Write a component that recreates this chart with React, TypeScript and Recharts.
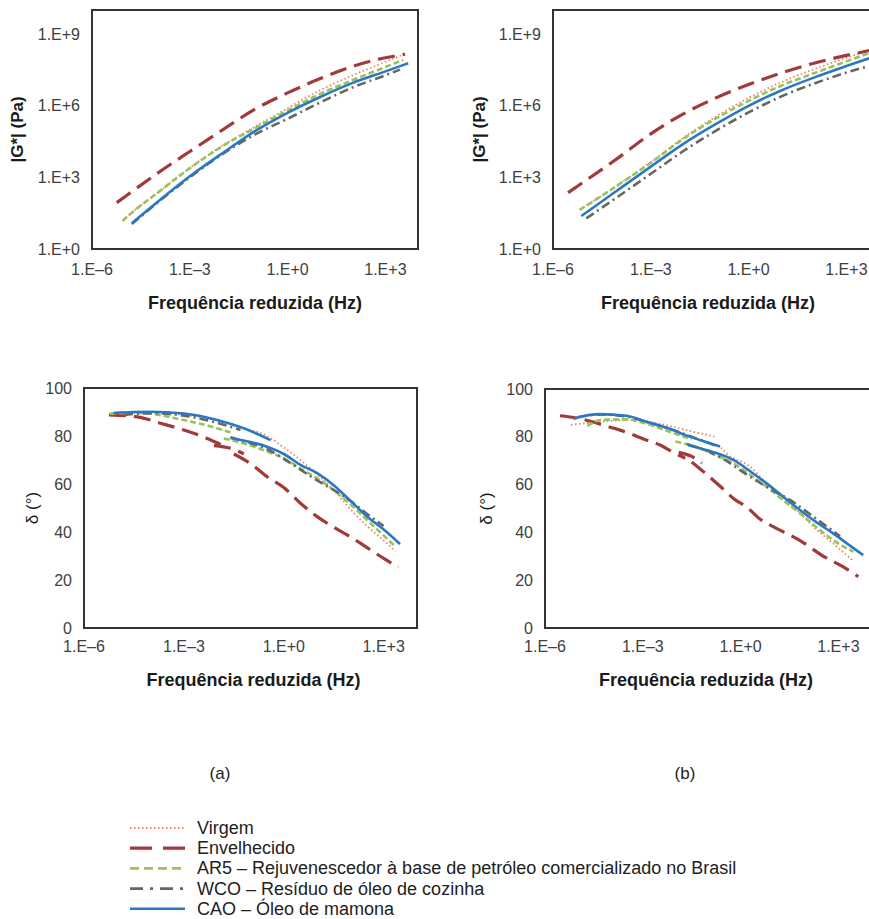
import React from 'react';
import { LineChart, Line, XAxis, YAxis, ReferenceArea } from 'recharts';

type Pt = [number, number | null];

// |G*| (Pa) against reduced frequency (Hz) — panel (a)
const virgemGa: Pt[] = [[8.7e-6, 15], [1e-5, 18], [1e-4, 219], [1e-3, 2500], [1e-2, 2.1e4], [0.1, 1.3e5], [1, 7.8e5], [10, 4.4e6], [100, 1.86e7], [1000, 6.8e7], [4500, 1.55e8]];
const envelhecidoGa: Pt[] = [[5.75e-6, 87], [1e-5, 151], [1e-4, 1450], [1e-3, 1.2e4], [1e-2, 9.5e4], [0.1, 7.1e5], [1, 3.4e6], [10, 1.35e7], [100, 4.4e7], [1000, 1.0e8], [4000, 1.41e8]];
const ar5Ga: Pt[] = [[8.7e-6, 15], [1e-5, 18], [1e-4, 219], [1e-3, 2400], [1e-2, 2.0e4], [0.1, 1.15e5], [1, 6.2e5], [10, 3.1e6], [100, 1.17e7], [1000, 4.1e7], [3500, 8.1e7]];
const wcoGa: Pt[] = [[1.66e-5, 11], [1e-4, 85], [1e-3, 1000], [1e-2, 9300], [0.1, 6.2e4], [1, 2.8e5], [10, 1.35e6], [100, 5.8e6], [1000, 1.86e7], [2800, 3.2e7]];
const caoGa: Pt[] = [[1.66e-5, 12], [1e-4, 91], [1e-3, 1100], [1e-2, 1.02e4], [0.1, 8.5e4], [1, 5.0e5], [10, 2.3e6], [100, 8.9e6], [1000, 2.7e7], [5000, 5.9e7]];

// |G*| (Pa) — panel (b)
const virgemGb: Pt[] = [[6.6e-6, 43], [1e-5, 62], [1e-4, 479], [1e-3, 4300], [1e-2, 4.5e4], [0.1, 3.5e5], [1, 2.1e6], [10, 9.5e6], [100, 3.3e7], [1000, 1.0e8], [5000, 2.1e8]];
const envelhecidoGb: Pt[] = [[2.9e-6, 229], [1e-5, 724], [1e-4, 6500], [1e-3, 6.6e4], [1e-2, 4.5e5], [0.1, 2.1e6], [1, 7.6e6], [10, 2.3e7], [100, 5.9e7], [1000, 1.26e8], [5000, 2.0e8]];
const ar5Gb: Pt[] = [[6.6e-6, 43], [1e-5, 62], [1e-4, 479], [1e-3, 4100], [1e-2, 4.1e4], [0.1, 2.9e5], [1, 1.58e6], [10, 6.8e6], [100, 2.24e7], [1000, 7.1e7], [5000, 1.58e8]];
const wcoGb: Pt[] = [[1.05e-5, 19], [1e-4, 158], [1e-3, 1400], [1e-2, 1.26e4], [0.1, 8.9e4], [1, 5.2e5], [10, 2.4e6], [100, 8.3e6], [1000, 2.4e7], [4000, 4.2e7]];
const caoGb: Pt[] = [[7.4e-6, 24], [1e-5, 32], [1e-4, 302], [1e-3, 2800], [1e-2, 2.5e4], [0.1, 1.7e5], [1, 9.8e5], [10, 4.3e6], [100, 1.48e7], [1000, 4.5e7], [5000, 9.5e7]];

// δ (°) — panel (a); null splits the overlapping master-curve pieces
const virgemDa: Pt[] = [[6.3e-6, 89.2], [3.16e-5, 89.7], [1e-4, 89.7], [1e-3, 88.8], [1e-2, 86.5], [4e-2, 83.9], [0.1, 82.5], [0.25, 80.7], [1, 75.2], [3.16, 70], [10, 64], [31.6, 57.5], [100, 49.5], [316, 42.5], [1000, 36.5], [2240, 32]];
const envelhecidoDa: Pt[] = [[5.6e-6, 88.8], [4e-5, 88.0], [2e-4, 85.3], [1e-3, 82.5], [5e-3, 79.0], [1.26e-2, 76.5], [1.26e-2, null], [8e-3, 76.0], [2.5e-2, 74.9], [6.3e-2, 72.6], [6.3e-2, null], [3.16e-2, 72.5], [0.1, 68.5], [0.316, 63.0], [1, 58.5], [3.16, 52], [10, 46.4], [31.6, 42], [100, 38], [316, 33.5], [1000, 29], [2750, 25.3]];
const ar5Da: Pt[] = [[6e-6, 89.3], [3.16e-5, 89.6], [1e-4, 89.3], [5e-4, 87.5], [6.3e-3, 84.0], [2.5e-2, 81.5], [2.5e-2, null], [1.58e-2, 79.0], [4e-2, 77.6], [0.1, 76.0], [0.316, 73.5], [1, 70.7], [3.16, 66.5], [10, 62.4], [31.6, 57.5], [100, 51.5], [316, 45], [1000, 38.5], [2000, 34.6]];
const wcoDa: Pt[] = [[1.58e-5, 88.8], [1e-4, 89.5], [1e-3, 88.5], [1e-2, 85.5], [5e-2, 82.5], [5e-2, null], [2.5e-2, 79.5], [0.1, 77.0], [0.316, 74.5], [1, 70.5], [3.16, 66], [10, 61.5], [31.6, 57.5], [100, 53], [316, 47.5], [1000, 42.5]];
const caoDa: Pt[] = [[7.6e-6, 89.6], [3.16e-5, 90.0], [1e-4, 90.1], [1e-3, 89.4], [1e-2, 86.7], [6.3e-2, 83.2], [0.4, 78.3], [0.4, null], [2.5e-2, 79.2], [0.1, 77.5], [0.316, 75.5], [1, 72.5], [3.16, 68.0], [10, 64.5], [31.6, 59.5], [100, 53], [316, 46.5], [1000, 41], [3090, 35]];

// δ (°) — panel (b)
const virgemDb: Pt[] = [[6.3e-6, 85], [3.16e-5, 86], [3.16e-4, 87], [3.16e-3, 85.5], [1.26e-2, 83.6], [5.6e-2, 81.5], [0.158, 80.1], [0.158, null], [0.25, 75.5], [0.37, 73.1], [1.95, 67.5], [6.3, 60.5], [20, 54], [66, 48], [200, 41.5], [690, 35.4], [2880, 28]];
const envelhecidoDb: Pt[] = [[2.88e-6, 88.8], [1e-5, 87.8], [2.5e-5, 86.5], [1e-4, 84.0], [2e-4, 82.8], [1.26e-3, 78.7], [3.4e-3, 76.6], [8.7e-3, 73.5], [2e-2, 71.0], [2e-2, null], [1.26e-2, 73.5], [3.16e-2, 71.8], [6.5e-2, 69.0], [6.5e-2, null], [3.16e-2, 69.5], [7.9e-2, 65.0], [0.25, 59], [0.63, 54], [1.58, 50.5], [4.0, 45.5], [10, 42.4], [63, 36.8], [400, 29.5], [1580, 25.2], [4070, 21.5]];
const ar5Db: Pt[] = [[2e-5, 84.5], [5e-5, 87.0], [3.16e-4, 87.3], [1.17e-3, 85.6], [1.23e-2, 80.8], [3.16e-2, 79], [3.16e-2, null], [1e-2, 78], [5e-2, 75.5], [0.129, 73], [0.6, 68.9], [2.0, 64], [6.3, 59.1], [20, 53.5], [66, 48], [200, 42.5], [690, 36.8], [2880, 31.9]];
const wcoDb: Pt[] = [[1e-5, 88.2], [5e-5, 89.3], [3.16e-4, 88.5], [1.26e-3, 86.3], [1e-2, 82.5], [5e-2, 79], [0.2, 76], [0.2, null], [2.5e-2, 76.5], [0.1, 74], [0.316, 70.5], [0.95, 66.1], [3.16, 61.5], [10, 57.5], [32.4, 53.6], [170, 46.6], [1120, 38.4]];
const caoDb: Pt[] = [[7.4e-6, 87.5], [1.58e-5, 88.7], [4.4e-5, 89.5], [3.16e-4, 88.8], [1.17e-3, 86.5], [8.7e-3, 82.8], [1.95e-2, 80.8], [5.6e-2, 78.7], [0.234, 75.9], [0.234, null], [2.24e-2, 77.0], [5.6e-2, 75.2], [0.129, 73.8], [0.6, 70.3], [2.0, 65.5], [6.3, 60.5], [20, 55], [66, 49.4], [200, 44.5], [690, 39.6], [2000, 35], [5750, 30.5]];

const FREQ_TICKS = [1e-6, 1e-3, 1, 1e3];
const G_TICKS = [1, 1e3, 1e6, 1e9];
const DELTA_TICKS = [0, 20, 40, 60, 80, 100];

const SERIES = [
  { key: 'virgem', name: 'Virgem', color: '#ec8262', width: 1.8, dash: '1.5 2.5', legendDash: '1.5 2.5' },
  { key: 'envelhecido', name: 'Envelhecido', color: '#a2393a', width: 3.2, dash: '17 8', legendDash: '22 11' },
  { key: 'ar5', name: 'AR5 – Rejuvenescedor à base de petróleo comercializado no Brasil', color: '#9bc25a', width: 2.6, dash: '6 3', legendDash: '9 5' },
  { key: 'wco', name: 'WCO – Resíduo de óleo de cozinha', color: '#666666', width: 2.6, dash: '9 4 2 4', legendDash: '13 7 3 7' },
  { key: 'cao', name: 'CAO – Óleo de mamona', color: '#2b78c2', width: 2.6, dash: undefined, legendDash: undefined },
];

const FONT = "'Liberation Sans', Arial, sans-serif";

const fmtExp = (v: number) => {
  const e = Math.round(Math.log10(v));
  return `1.E${e < 0 ? '\u2013' : '+'}${Math.abs(e)}`;
};

const toRows = (pts: Pt[]) => pts.map(([f, v]) => ({ f, v }));

type Sets = Record<string, Pt[]>;

interface PanelProps {
  left: number;
  top: number;
  marginTop: number;
  marginRight: number;
  yAxisWidth: number;
  xAxisHeight: number;
  height: number;
  log: boolean;
  sets: Sets;
  yTitle: string;
  yTitleOffset: number;
  xTickMargin: number;
  xTitleOffset: number;
  xTitleDx: number;
}

function Panel(p: PanelProps) {
  const yDomain: [number, number] = p.log ? [1, 1e10] : [0, 100];
  const tick = { fill: '#404040', fontSize: 16, fontFamily: FONT };
  return (
    <div style={{ position: 'absolute', left: p.left, top: p.top }}>
      <LineChart width={440} height={p.height} margin={{ top: p.marginTop, right: p.marginRight, bottom: 0, left: 0 }}>
        <XAxis
          dataKey="f"
          type="number"
          scale="log"
          domain={[1e-6, 1e4]}
          allowDataOverflow
          ticks={FREQ_TICKS}
          interval={0}
          tickFormatter={fmtExp}
          tickLine={false}
          tickSize={0}
          tickMargin={p.xTickMargin}
          axisLine={false}
          height={p.xAxisHeight}
          tick={tick}
          label={{
            value: 'Frequência reduzida (Hz)',
            position: 'insideBottom',
            offset: p.xTitleOffset,
            dx: p.xTitleDx,
            fill: '#1a1a1a',
            fontSize: 18,
            fontWeight: 700,
            fontFamily: FONT,
          }}
        />
        <YAxis
          type="number"
          scale={p.log ? 'log' : 'linear'}
          domain={yDomain}
          allowDataOverflow
          ticks={p.log ? G_TICKS : DELTA_TICKS}
          interval={0}
          tickFormatter={p.log ? fmtExp : (v: number) => String(v)}
          tickLine={false}
          tickSize={0}
          tickMargin={12}
          axisLine={false}
          width={p.yAxisWidth}
          tick={tick}
          label={{
            value: p.yTitle,
            angle: -90,
            position: 'insideLeft',
            offset: p.yTitleOffset,
            style: { textAnchor: 'middle' },
            fill: '#1a1a1a',
            fontSize: 17,
            fontWeight: p.log ? 700 : 400,
            fontFamily: FONT,
          }}
        />
        <ReferenceArea
          x1={1e-6}
          x2={1e4}
          y1={yDomain[0]}
          y2={yDomain[1]}
          fill="none"
          stroke="#333333"
          strokeWidth={2}
          ifOverflow="visible"
        />
        {SERIES.map((s) => (
          <Line
            key={s.key}
            data={toRows(p.sets[s.key])}
            dataKey="v"
            name={s.name}
            type="monotone"
            stroke={s.color}
            strokeWidth={s.width}
            strokeDasharray={s.dash}
            dot={false}
            activeDot={false}
            connectNulls={false}
            isAnimationActive={false}
          />
        ))}
      </LineChart>
    </div>
  );
}

export default function App() {
  const gA = { virgem: virgemGa, envelhecido: envelhecidoGa, ar5: ar5Ga, wco: wcoGa, cao: caoGa };
  const gB = { virgem: virgemGb, envelhecido: envelhecidoGb, ar5: ar5Gb, wco: wcoGb, cao: caoGb };
  const dA = { virgem: virgemDa, envelhecido: envelhecidoDa, ar5: ar5Da, wco: wcoDa, cao: caoDa };
  const dB = { virgem: virgemDb, envelhecido: envelhecidoDb, ar5: ar5Db, wco: wcoDb, cao: caoDb };

  return (
    <div style={{ position: 'fixed', left: 0, top: 0, width: 869, height: 919, overflow: 'hidden', background: '#fff', fontFamily: FONT }}>
      <Panel left={0} top={0} height={320} marginTop={10} marginRight={22} yAxisWidth={92} xAxisHeight={71}
        log sets={gA} yTitle="|G*| (Pa)" yTitleOffset={17} xTickMargin={15} xTitleOffset={11} xTitleDx={0} />
      <Panel left={461} top={0} height={320} marginTop={10} marginRight={22} yAxisWidth={92} xAxisHeight={71}
        log sets={gB} yTitle="|G*| (Pa)" yTitleOffset={18} xTickMargin={15} xTitleOffset={11} xTitleDx={-8} />
      <Panel left={0} top={370} height={330} marginTop={18} marginRight={23} yAxisWidth={84} xAxisHeight={72}
        log={false} sets={dA} yTitle="δ (°)" yTitleOffset={32} xTickMargin={13} xTitleOffset={14} xTitleDx={3} />
      <Panel left={461} top={370} height={330} marginTop={19} marginRight={30} yAxisWidth={84} xAxisHeight={72}
        log={false} sets={dB} yTitle="δ (°)" yTitleOffset={25} xTickMargin={13} xTitleOffset={14} xTitleDx={-2} />

      <svg style={{ position: 'absolute', left: 0, top: 740 }} width={869} height={179}>
        <text x={220} y={33} textAnchor="middle" dominantBaseline="central" fontSize={17} fill="#222" fontFamily={FONT}>(a)</text>
        <text x={685} y={33} textAnchor="middle" dominantBaseline="central" fontSize={17} fill="#222" fontFamily={FONT}>(b)</text>
        {SERIES.map((s, i) => (
          <g key={s.key}>
            <line x1={130} x2={185} y1={88 + i * 20.2} y2={88 + i * 20.2} stroke={s.color}
              strokeWidth={s.width} strokeDasharray={s.legendDash} />
            <text x={197} y={88 + i * 20.2} dominantBaseline="central" fontSize={18} fill="#222" fontFamily={FONT}>{s.name}</text>
          </g>
        ))}
      </svg>
    </div>
  );
}
